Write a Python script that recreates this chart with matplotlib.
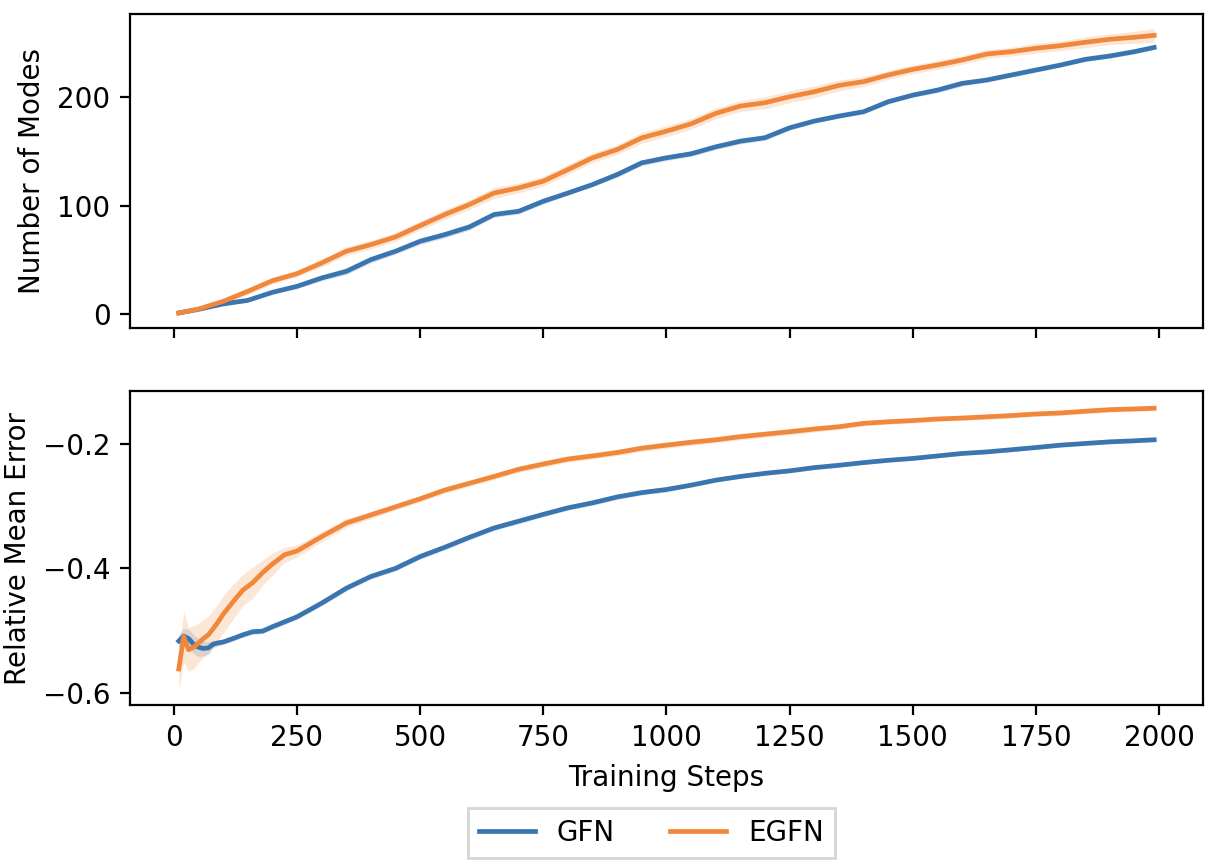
import numpy as np
import matplotlib
matplotlib.use("Agg")
import matplotlib.pyplot as plt

# ---------------- data ----------------
steps_top = [10, 50, 100, 150, 200, 250, 300, 350, 400, 450, 500, 550, 600, 650, 700,
             750, 800, 850, 900, 950, 1000, 1050, 1100, 1150, 1200, 1250, 1300, 1350,
             1400, 1450, 1500, 1550, 1600, 1650, 1700, 1750, 1800, 1850, 1900, 1950, 1990]

gfn_modes = [1.2, 4.5, 9.5, 12.8, 20.2, 25.7, 33.4, 39.5, 50.3, 58.0, 67.2, 73.3, 80.4, 91.8,
             94.8, 104.0, 111.6, 119.4, 128.6, 139.4, 144.0, 147.7, 154.1, 159.3, 162.5, 171.6,
             177.8, 182.4, 186.4, 195.6, 201.7, 206.3, 212.5, 215.6, 220.2, 224.8, 229.4, 234.6,
             237.7, 241.7, 245.6]
gfn_modes_sd = [0.3, 1, 1.5, 1.5, 2, 2, 2.5, 3, 3, 2.5, 3, 3, 3, 2.5, 2.5, 2.5, 2, 2, 2.5,
                2.5, 2.5, 2.5, 2.5, 2.5, 2.5, 2, 2, 2, 2, 2, 2, 2.5, 2.5, 2, 2, 2, 2, 2, 2,
                2, 2]

egfn_modes = [1.2, 4.8, 11.9, 21.1, 30.9, 37.4, 47.2, 58.0, 64.1, 71.2, 81.6, 91.8, 101.0, 111.6,
              116.3, 122.5, 133.2, 144.0, 151.6, 162.4, 168.5, 175.3, 184.9, 191.6, 194.7,
              200.2, 204.8, 210.6, 214.1, 220.2, 225.4, 229.4, 234.0, 239.5, 241.7, 244.8,
              247.2, 250.3, 253.1, 254.9, 256.7]
egfn_modes_sd = [0.3, 1, 2, 3, 3, 3, 3.5, 4, 4, 4, 4, 4.5, 4.5, 5, 4.5, 4.5, 4.5, 4.5, 4.5,
                 5, 5, 5, 5, 5, 5.5, 5.5, 5.5, 5, 4.5, 4, 4, 4, 4, 4, 4, 4.5, 4.5, 5, 5, 5.5, 6.5]

steps_bot = [10, 20, 30, 40, 50, 60, 70, 80, 90, 100, 120, 140, 160, 180, 200, 225, 250,
             300, 350, 400, 450, 500, 550, 600, 650, 700, 750, 800, 850, 900, 950, 1000,
             1050, 1100, 1150, 1200, 1250, 1300, 1350, 1400, 1450, 1500, 1550, 1600, 1650,
             1700, 1750, 1800, 1850, 1900, 1950, 1990]

gfn_err = [-0.517, -0.509, -0.513, -0.522, -0.527, -0.529, -0.528, -0.522, -0.520, -0.5185,
           -0.513, -0.507, -0.502, -0.501, -0.494, -0.486, -0.478, -0.456, -0.432, -0.413,
           -0.400, -0.381, -0.366, -0.350, -0.335, -0.324, -0.313, -0.3025, -0.2945,
           -0.285, -0.278, -0.273, -0.266, -0.258, -0.252, -0.247, -0.243, -0.2378,
           -0.234, -0.2297, -0.226, -0.223, -0.219, -0.215, -0.2125, -0.209, -0.2054,
           -0.2016, -0.1989, -0.1963, -0.1946, -0.193]
gfn_err_sd = [0.01, 0.012, 0.015, 0.015, 0.015, 0.012, 0.01, 0.006, 0.005, 0.004, 0.004,
              0.004, 0.004, 0.004, 0.004, 0.004, 0.004, 0.004, 0.004, 0.004, 0.004, 0.004,
              0.004, 0.004, 0.004, 0.004, 0.004, 0.004, 0.004, 0.004, 0.004, 0.004, 0.003,
              0.003, 0.003, 0.003, 0.003, 0.003, 0.003, 0.003, 0.003, 0.003, 0.003, 0.003,
              0.003, 0.003, 0.003, 0.003, 0.003, 0.003, 0.003, 0.003]

egfn_err = [-0.562, -0.510, -0.531, -0.527, -0.520, -0.513, -0.507, -0.497, -0.486, -0.474,
            -0.454, -0.435, -0.423, -0.407, -0.393, -0.378, -0.372, -0.349, -0.327, -0.314,
            -0.301, -0.288, -0.274, -0.263, -0.252, -0.2405, -0.232, -0.224, -0.219,
            -0.2135, -0.2065, -0.2016, -0.197, -0.193, -0.188, -0.184, -0.180, -0.1757,
            -0.172, -0.1665, -0.164, -0.162, -0.1595, -0.158, -0.156, -0.154, -0.1514,
            -0.1498, -0.147, -0.1445, -0.1433, -0.1422]
egfn_err_sd = [0.035, 0.04, 0.035, 0.035, 0.032, 0.03, 0.03, 0.03, 0.03, 0.03, 0.028,
               0.025, 0.025, 0.02, 0.018, 0.012, 0.01, 0.008, 0.007, 0.006, 0.005, 0.005,
               0.005, 0.005, 0.005, 0.005, 0.005, 0.005, 0.005, 0.005, 0.005, 0.005, 0.005,
               0.005, 0.005, 0.005, 0.005, 0.005, 0.004, 0.004, 0.004, 0.004, 0.004, 0.004,
               0.004, 0.004, 0.004, 0.004, 0.004, 0.004, 0.004, 0.004]

labels = ["GFN", "EGFN"]
colors = ["#3a75b0", "#f0873a"]
xticks = [0, 250, 500, 750, 1000, 1250, 1500, 1750, 2000]

# ---------------- plot ----------------
fig, (ax1, ax2) = plt.subplots(2, 1, sharex=True, figsize=(6.08, 4.33), dpi=200)
fig.subplots_adjust(left=0.1069, right=0.9893, top=0.9838, bottom=0.1859, hspace=0.204)

def draw(ax, x, mean, sd, color, label):
    x = np.asarray(x, float)
    m = np.asarray(mean, float)
    s = np.asarray(sd, float)
    ax.fill_between(x, m - s, m + s, color=color, alpha=0.2, linewidth=0)
    ax.plot(x, m, color=color, lw=1.7, label=label)

draw(ax1, steps_top, gfn_modes, gfn_modes_sd, colors[0], labels[0])
draw(ax1, steps_top, egfn_modes, egfn_modes_sd, colors[1], labels[1])
draw(ax2, steps_bot, gfn_err, gfn_err_sd, colors[0], labels[0])
draw(ax2, steps_bot, egfn_err, egfn_err_sd, colors[1], labels[1])

ax1.set_ylabel("Number of Modes")
ax2.set_ylabel("Relative Mean Error")
ax2.set_xlabel("Training Steps")
ax2.set_xticks(xticks)
ax1.set_yticks([0, 100, 200])
ax2.set_yticks([-0.6, -0.4, -0.2])

handles, labs = ax2.get_legend_handles_labels()
fig.legend(handles, labs, loc="lower center", ncol=2, fancybox=False, borderaxespad=0,
           bbox_to_anchor=(651.5 / 1216, 1 - 858 / 866))

fig.savefig("out.png", dpi=200)
